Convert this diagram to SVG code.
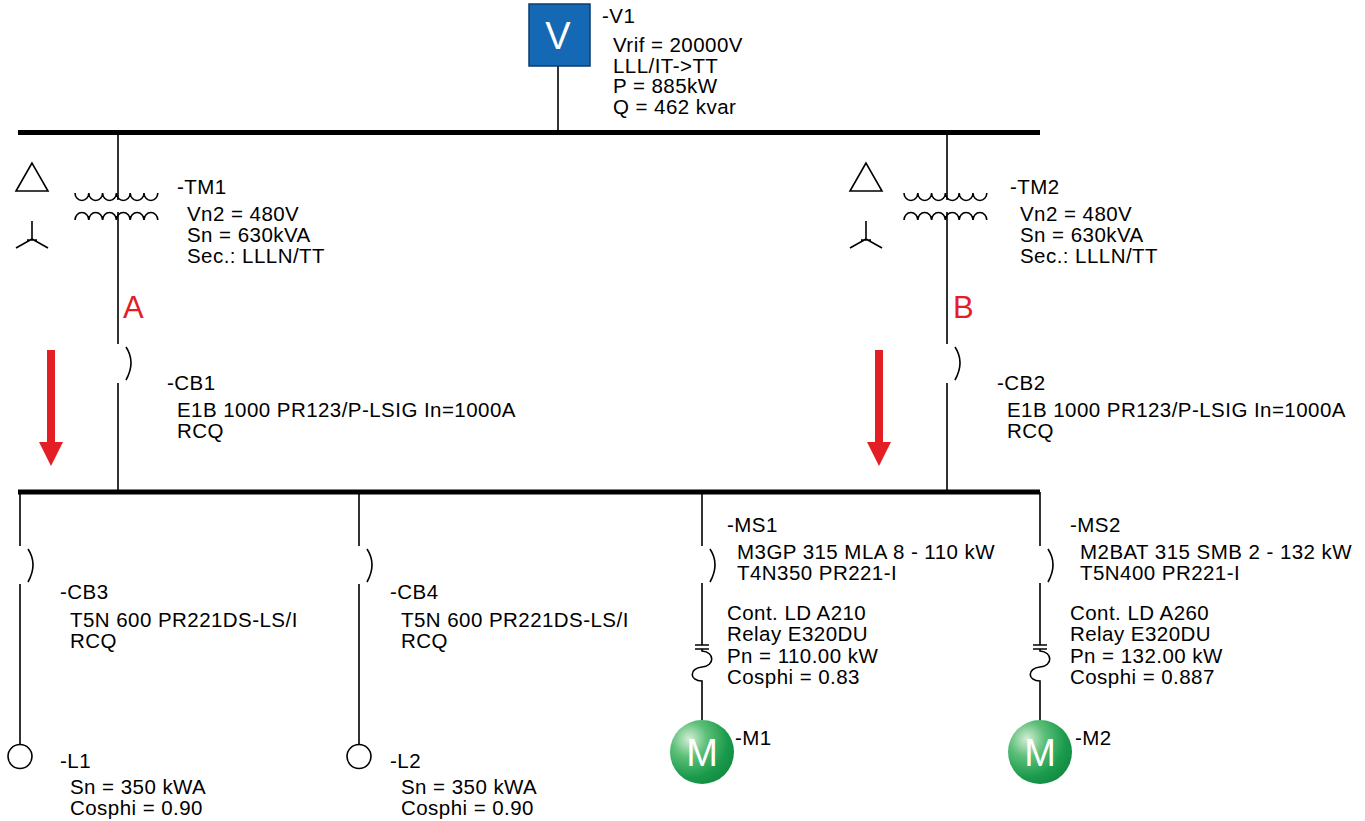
<svg xmlns="http://www.w3.org/2000/svg" width="1365" height="821" viewBox="0 0 1365 821">
<defs>
<style>
text{font-family:"Liberation Sans",Arial,sans-serif;font-size:20.5px;letter-spacing:0.45px;fill:#000}
.w{stroke:#000;stroke-width:1.6;fill:none}
.bus{stroke:#000;stroke-width:5;fill:none}
.red{fill:#e31e24}
.lbl{fill:#e31e24;font-size:31px;letter-spacing:0}
.mt{fill:#fff;font-size:38px;letter-spacing:0;text-anchor:middle}
</style>
<radialGradient id="mg" cx="0.3" cy="0.3" r="0.8">
<stop offset="0" stop-color="#d5eed6"/>
<stop offset="0.35" stop-color="#5cbf78"/>
<stop offset="0.75" stop-color="#1a9a4c"/>
<stop offset="1" stop-color="#128a40"/>
</radialGradient>
<g id="cb"><path class="w" d="M8,3 Q18,18 8,36"/></g>
<g id="tr">
<path class="w" d="M-43,56 a6.9,7.5 0 0 0 13.8,0 a6.9,7.5 0 0 0 13.8,0 a6.9,7.5 0 0 0 13.8,0 a6.9,7.5 0 0 0 13.8,0 a6.9,7.5 0 0 0 13.8,0 a6.9,7.5 0 0 0 13.8,0"/>
<path class="w" d="M-43,83 a6.9,7.5 0 0 1 13.8,0 a6.9,7.5 0 0 1 13.8,0 a6.9,7.5 0 0 1 13.8,0 a6.9,7.5 0 0 1 13.8,0 a6.9,7.5 0 0 1 13.8,0 a6.9,7.5 0 0 1 13.8,0"/>
</g>
<g id="dy">
<path class="w" d="M0,31 L-16,59 L16,59 Z"/>
<path class="w" d="M0,89 L0,108 M-5,108 L5,108 M0,107 L-16,116 M0,107 L16,116"/>
</g>
<g id="arr"><path class="red" d="M-4,350 L4,350 L4,442 L12,442 L0,466 L-12,442 L-4,442 Z"/></g>
<g id="ms">
<path class="w" d="M0,583 L0,645 M-7,645 L7,645 M-7,649 L7,649 M0,649 L0,651 C13,652 13,666 0,667 C-13,668 -13,681 0,681 L0,720"/>
</g>
</defs>

<g id="connectors">
<path class="bus" d="M18,132.5 L1040,132.5"/>
<path class="bus" d="M18,492 L1040,492"/>
<path class="w" d="M558,66 L558,132"/>
<path class="w" d="M118,132 L118,200 M118,212 L118,344 M118,383 L118,492"/>
<path class="w" d="M947,132 L947,200 M947,212 L947,344 M947,383 L947,492"/>
<path class="w" d="M20,492 L20,546 M20,584 L20,745"/>
<path class="w" d="M359,492 L359,546 M359,584 L359,745"/>
<path class="w" d="M702,492 L702,546"/>
<path class="w" d="M1040,492 L1040,546"/>
</g>

<g id="V1">
<rect x="529" y="4" width="61" height="62" fill="#1568b3" stroke="#0d3c6e" stroke-width="1.5"/>
<text class="mt" x="558" y="49">V</text>
<text x="602" y="23">-V1</text>
<text x="613" y="52">Vrif = 20000V</text>
<text x="613" y="72.5">LLL/IT-&gt;TT</text>
<text x="613" y="93">P = 885kW</text>
<text x="613" y="113.5">Q = 462 kvar</text>
</g>

<g id="TM1">
<use href="#tr" x="118" y="137"/>
<use href="#dy" x="32" y="132"/>
<text x="177" y="194">-TM1</text>
<text x="187" y="221">Vn2 = 480V</text>
<text x="187" y="242">Sn = 630kVA</text>
<text x="187" y="263">Sec.: LLLN/TT</text>
<text class="lbl" x="123" y="318">A</text>
</g>

<g id="TM2">
<use href="#tr" x="947" y="137"/>
<use href="#dy" x="866" y="132"/>
<text x="1010" y="194">-TM2</text>
<text x="1020" y="221">Vn2 = 480V</text>
<text x="1020" y="242">Sn = 630kVA</text>
<text x="1020" y="263">Sec.: LLLN/TT</text>
<text class="lbl" x="953" y="318">B</text>
</g>

<g id="CB1">
<use href="#cb" x="118" y="344"/>
<text x="167" y="390">-CB1</text>
<text x="177" y="417">E1B 1000 PR123/P-LSIG In=1000A</text>
<text x="177" y="438">RCQ</text>
</g>

<g id="CB2">
<use href="#cb" x="947" y="344"/>
<text x="997" y="390">-CB2</text>
<text x="1007" y="417">E1B 1000 PR123/P-LSIG In=1000A</text>
<text x="1007" y="438">RCQ</text>
</g>

<g id="arrows">
<use href="#arr" x="51" y="0"/>
<use href="#arr" x="879" y="0"/>
</g>

<g id="CB3">
<use href="#cb" x="20" y="546"/>
<text x="60" y="599">-CB3</text>
<text x="70" y="627">T5N 600 PR221DS-LS/I</text>
<text x="70" y="648">RCQ</text>
</g>

<g id="CB4">
<use href="#cb" x="359" y="546"/>
<text x="390" y="599">-CB4</text>
<text x="401" y="627">T5N 600 PR221DS-LS/I</text>
<text x="401" y="648">RCQ</text>
</g>

<g id="L1">
<circle class="w" cx="20" cy="756.5" r="12"/>
<text x="60" y="768">-L1</text>
<text x="70" y="794">Sn = 350 kWA</text>
<text x="70" y="815">Cosphi = 0.90</text>
</g>

<g id="L2">
<circle class="w" cx="359" cy="756.5" r="12"/>
<text x="390" y="768">-L2</text>
<text x="401" y="794">Sn = 350 kWA</text>
<text x="401" y="815">Cosphi = 0.90</text>
</g>

<g id="MS1">
<use href="#cb" x="702" y="546"/>
<use href="#ms" x="702" y="0"/>
<text x="727" y="532">-MS1</text>
<text x="737" y="559">M3GP 315 MLA 8 - 110 kW</text>
<text x="737" y="580">T4N350 PR221-I</text>
<text x="727" y="620">Cont. LD A210</text>
<text x="727" y="641">Relay E320DU</text>
<text x="727" y="663">Pn = 110.00 kW</text>
<text x="727" y="684">Cosphi = 0.83</text>
</g>

<g id="MS2">
<use href="#cb" x="1040" y="546"/>
<use href="#ms" x="1040" y="0"/>
<text x="1070" y="532">-MS2</text>
<text x="1080" y="559">M2BAT 315 SMB 2 - 132 kW</text>
<text x="1080" y="580">T5N400 PR221-I</text>
<text x="1070" y="620">Cont. LD A260</text>
<text x="1070" y="641">Relay E320DU</text>
<text x="1070" y="663">Pn = 132.00 kW</text>
<text x="1070" y="684">Cosphi = 0.887</text>
</g>

<g id="M1">
<circle cx="702" cy="752" r="32" fill="url(#mg)"/>
<text class="mt" x="702" y="766">M</text>
<text x="735" y="745">-M1</text>
</g>

<g id="M2">
<circle cx="1040" cy="752" r="32" fill="url(#mg)"/>
<text class="mt" x="1040" y="766">M</text>
<text x="1075" y="745">-M2</text>
</g>
</svg>
